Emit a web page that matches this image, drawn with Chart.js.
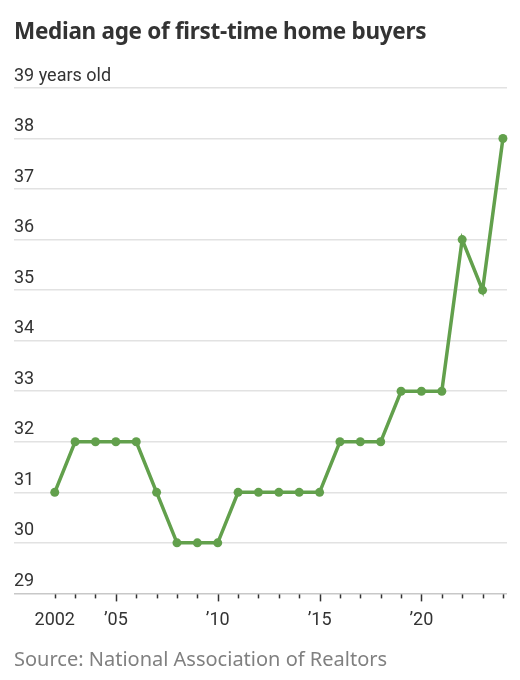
<!DOCTYPE html>
<html>
<head>
<meta charset="utf-8">
<script src="https://cdn.jsdelivr.net/npm/chart.js@4.4.1/dist/chart.umd.min.js"></script>
<style>
  html, body { margin: 0; padding: 0; background: #fff; }
  body { width: 520px; height: 680px; position: relative; overflow: hidden; font-family: "Noto Sans", "DejaVu Sans", sans-serif; }
  #title { position: absolute; left: 14px; top: 15px; font-size: 22.5px; font-weight: 700; color: #333; letter-spacing: -0.3px; white-space: nowrap; }
  #source { position: absolute; left: 14px; top: 645px; font-size: 20px; color: #808080; white-space: nowrap; }
  #wrap { position: absolute; left: 0; top: 0; width: 520px; height: 680px; }
</style>
</head>
<body>
<div id="wrap"><canvas id="c"></canvas></div>
<div id="title">Median age of first-time home buyers</div>
<div id="source">Source: National Association of Realtors</div>
<script>
const years = [2002,2003,2004,2005,2006,2007,2008,2009,2010,2011,2012,2013,2014,2015,2016,2017,2018,2019,2020,2021,2022,2023,2024];
const medianAge = [31,32,32,32,32,31,30,30,30,31,31,31,31,31,32,32,32,33,33,33,36,35,38];
const yTicks = [29,30,31,32,33,34,35,36,37,38,39];
const topTickLabel = '39 years old';
const xLabels = {2002:'2002',2005:'\u201905',2010:'\u201910',2015:'\u201915',2020:'\u201920'};

const green = '#62a04c';
const labelFont = "'Roboto', sans-serif";

const tickMarks = {
  id: 'tickMarks',
  afterDraw(chart) {
    const x = chart.scales.x, y = chart.scales.y;
    const ctx = chart.ctx;
    const base = y.getPixelForValue(29);
    ctx.save();
    ctx.strokeStyle = '#333';
    ctx.lineWidth = 1.5;
    years.forEach(yr => {
      const px = Math.round(x.getPixelForValue(yr)) + 0.5;
      const len = (yr % 5 === 0) ? 8 : 5;
      ctx.beginPath();
      ctx.moveTo(px, base + 1);
      ctx.lineTo(px, base + len);
      ctx.stroke();
    });
    ctx.restore();
  }
};

new Chart(document.getElementById('c'), {
  type: 'line',
  data: {
    datasets: [{
      data: years.map((yr, i) => ({x: yr, y: medianAge[i]})),
      borderColor: green,
      backgroundColor: green,
      borderWidth: 3.5,
      pointRadius: 4.5,
      pointBorderWidth: 0,
      pointBackgroundColor: green,
      tension: 0,
      clip: false
    }]
  },
  options: {
    responsive: true,
    maintainAspectRatio: false,
    animation: false,
    layout: { padding: { left: 14, right: 13, top: 88, bottom: 33 } },
    plugins: { legend: { display: false }, tooltip: { enabled: false }, title: { display: false } },
    scales: {
      x: {
        type: 'linear',
        min: 2000,
        max: 2024.2,
        afterBuildTicks: (s) => { s.ticks = years.map(v => ({value: v})); },
        grid: { display: false, drawTicks: false },
        border: { display: false },
        ticks: {
          autoSkip: false,
          maxRotation: 0,
          padding: 16,
          color: '#333',
          font: { family: labelFont, size: 18 },
          callback: (v) => xLabels[v] || ''
        }
      },
      y: {
        min: 29,
        max: 39,
        afterBuildTicks: (s) => { s.ticks = yTicks.map(v => ({value: v})); },
        grid: {
          drawTicks: false,
          color: (c) => (c.tick && c.tick.value === 29) ? '#c8c8c8' : '#e2e2e2',
          lineWidth: 1.5
        },
        border: { display: false },
        ticks: {
          mirror: true,
          padding: 0,
          labelOffset: -12,
          color: '#333',
          font: { family: labelFont, size: 18 },
          callback: (v) => v === 39 ? topTickLabel : String(v)
        }
      }
    }
  },
  plugins: [tickMarks]
});
</script>
</body>
</html>
